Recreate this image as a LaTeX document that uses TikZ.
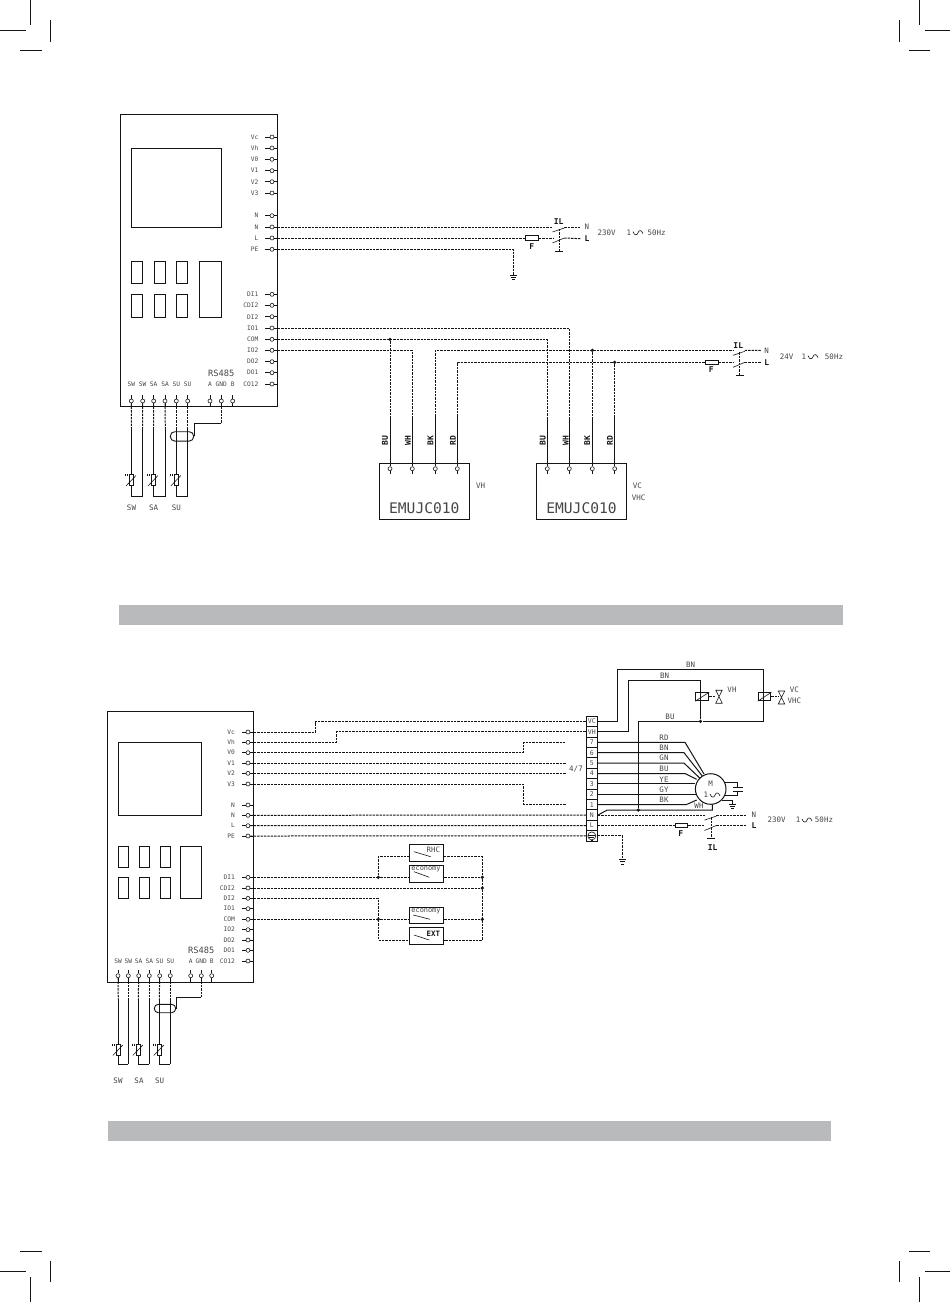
\documentclass[tikz,border=0pt]{standalone}
\usepackage{fontspec}
\setmonofont{DejaVu Sans Mono}
\definecolor{bandgrey}{RGB}{185,186,188}
\definecolor{inkblack}{RGB}{20,20,20}
\definecolor{inkgrey}{RGB}{70,70,70}
\newcommand{\fsz}[1]{\ttfamily\fontsize{#1}{#1}\selectfont}
\tikzset{
  box/.style={draw=inkblack, line width=1pt, inner sep=0pt},
  term/.style={circle, draw=inkblack, fill=white, line width=0.6pt, inner sep=0pt, minimum size=4pt},
  dot/.style={circle, fill=inkblack, inner sep=0pt, minimum size=3.6pt},
  lab/.style={inner sep=0pt, text=inkgrey, font=\fsz{6.2}},
  labr/.style={lab, anchor=east},
  big/.style={lab, font=\fsz{7.5}},
  colr/.style={lab, text=inkblack, font=\fsz{8}\bfseries},
  wire/.style={draw=inkblack, line width=1pt, dash pattern=on 2.4pt off 1pt},
  lead/.style={draw=inkblack, line width=1pt},
  thin lead/.style={draw=inkblack, line width=0.6pt},
  fuse/.style={box, minimum width=13pt, minimum height=4.6pt},
  crop/.style={draw=inkblack, line width=0.9pt},
  pics/earth/.style={code={
    \draw[thin lead] (-3.5,0) -- (3.5,0) (-2.4,2.2) -- (2.4,2.2) (-1.2,4.4) -- (1.2,4.4);
  }},
  pics/wave/.style={code={
    \draw[thin lead] (-5,-1) .. controls (-3.5,3) and (-1,3) .. (0,0) .. controls (1,-3) and (3.5,-3) .. (5,1);
  }},
  pics/sensor/.style={code={
    \draw[thin lead, fill=white] (-1.8,0) rectangle (1.8,11);
    \draw[thin lead] (-5.5,11.5) -- (4.5,1);
    \draw[thin lead] (-6,-0.5) -- (-6,1.5) (-4.4,-0.5) -- (-4.4,1.5);
  }},
  pics/isol/.style={code={
    \coordinate (-nl) at (0,-#1);
    \coordinate (-nr) at (11.3,-#1);
    \coordinate (-ll) at (0,0);
    \coordinate (-lr) at (11.3,0);
    \draw[thin lead] (-0.5,5-#1) -- (11.3,1-#1);
    \draw[thin lead] (-0.5,5) -- (11.3,0);
    \draw[wire, line width=0.7pt] (6,2-#1) -- (6,13);
    \draw[lead] (2,13) -- (10,13);
  }},
  pics/valve/.style={code={
    \draw[thin lead] (-3.2,-6.5) -- (3.2,-6.5) -- (-3.2,6.5) -- (3.2,6.5) -- cycle;
  }},
}
\begin{document}
\begin{tikzpicture}[x=1pt,y=-1pt]
\useasboundingbox (0,0) rectangle (950,1302);
% crop marks
\foreach \sx/\sy/\ox/\oy in {1/1/0/0,-1/1/950/0,1/-1/0/1302,-1/-1/950/1302}{
  \begin{scope}[shift={(\ox,\oy)},xscale=\sx,yscale=\sy]
    \draw[crop] (30.5,0) -- (30.5,25);
    \draw[crop] (0,30.5) -- (25.5,30.5);
    \draw[crop] (50.5,20) -- (50.5,41.5);
    \draw[crop] (20,50.5) -- (41.5,50.5);
  \end{scope}
}
% grey bands
\fill[bandgrey] (119,605) rectangle (843,625);
\fill[bandgrey] (108,1121) rectangle (831,1141);

% upper controller
\node[box, minimum width=157pt, minimum height=292.7pt] (a_main) at (198.9,260.6) {};
\node[box, minimum width=90pt, minimum height=79pt] (a_scr) at (176.3,187.8) {};
\foreach \n/\x in {1/137,2/159.9,3/181.9}{
  \node[box, minimum width=11.4pt, minimum height=22pt] (a_ku\n) at (\x,272.3) {};
  \node[box, minimum width=11.4pt, minimum height=23pt] (a_kd\n) at (\x,305.8) {};
}
\node[box, minimum width=22pt, minimum height=56pt] (a_disp) at (210.3,289.3) {};
\foreach \n/\y/\t in {Vc/137/Vc,Vh/148/Vh,Vz/159.3/V0,Va/170.7/V1,Vb/181.7/V2,Vd/193/V3,Na/215.7/N,Nb/227/N,L/238/L,PE/249.3/PE,
    DIa/294.3/DI1,CDI/305.3/CDI2,DIb/316.7/DI2,IOa/328/IO1,COM/339.3/COM,IOb/350.3/IO2,DOb/361.7/DO2,DOa/372.7/DO1,COD/384/CO12}{
  \node[term] (a_\n) at (272,\y) {};
  \draw[thin lead] (a_\n.west) -- ++(-4.4,0);
  \draw[thin lead] (a_\n.east) -- (a_main.east |- a_\n);
  \node[labr] (al_\n) at (258.5,\y) {\t};
}
\foreach \n/\x/\t in {1/131.3/SW,2/142.7/SW,3/153.7/SA,4/165/SA,5/176.3/SU,6/187.7/SU,7/210/A,8/221.3/GND,9/232.7/B}{
  \node[term] (a_s\n) at (\x,401) {};
  \draw[thin lead] (a_s\n.north) -- ++(0,-3.5);
  \draw[thin lead] (a_s\n.south) -- (a_main.south -| a_s\n);
  \node[lab] (al_s\n) at (\x,384.3) {\t};
}
\node[lab, font=\fsz{8.7}] (al_rs) at (221.3,373.3) {RS485};
% upper sensors
\foreach \n/\x in {1/131.5,2/142.5,3/153.5,4/165.3,5/176.3,6/187.7}{
  \coordinate (ac_\n) at (\x,428);
  \coordinate (ae_\n) at (\x,496.7);
  \draw[wire] (a_s\n) -- (ac_\n);
  \draw[lead] (ac_\n) -- (ae_\n);
}
\draw[lead] (ae_1) -- (ae_2);
\draw[lead] (ae_3) -- (ae_4);
\draw[lead] (ae_5) -- (ae_6);
\pic at (131.5,474.5) {sensor};
\pic at (153.5,474.5) {sensor};
\pic at (176.3,474.5) {sensor};
\node[big] (al_sw) at (131.5,508) {SW};
\node[big] (al_sa) at (153.7,508) {SA};
\node[big] (al_su) at (176.3,508) {SU};
\node[draw=inkblack, line width=0.9pt, rounded corners=4.5pt, minimum width=23.4pt, minimum height=9.4pt, inner sep=0pt] (a_shield) at (182,436.4) {};
\coordinate (a_gb) at (221.3,423);
\draw[wire] (a_s8) -- (a_gb);
\draw[lead] (a_gb) -| (a_shield.east);

% upper mains
\pic (s_a) at (553,238) {isol=11};
\node[fuse] (f_a) at (532,238) {};
\node[big] (t_an) at (587,227) {N};
\node[colr] (t_al) at (587,238.7) {L};
\node[colr] (t_ail) at (558.7,221.7) {IL};
\node[colr] (t_af) at (531.7,246.3) {F};
\node[big] (t_av) at (606.7,232.7) {230V};
\node[big] (t_ao) at (629,232.7) {1};
\pic at (638,232.7) {wave};
\node[big] (t_ahz) at (656.7,232.7) {50Hz};
\coordinate (g_a) at (513.3,275);
\draw[wire] (a_Nb) -- (s_a-nl);
\draw[wire] (s_a-nr) -- ([xshift=-3.5pt]t_an.west);
\draw[wire] (a_L) -- (f_a);
\draw[wire] (f_a) -- (s_a-ll);
\draw[wire] (s_a-lr) -- ([xshift=-3.5pt]t_al.west);
\draw[wire] (a_PE) -| (g_a);
\pic at (g_a) {earth};

% actuator boxes
\node[box, minimum width=90pt, minimum height=56pt] (e_a) at (424.3,491.3) {};
\node[box, minimum width=90.4pt, minimum height=56pt] (e_b) at (581.5,491.3) {};
\node[lab, font=\fsz{14.6}] (el_a) at (424.3,508.3) {EMUJC010};
\node[lab, font=\fsz{14.6}] (el_b) at (581.5,508.3) {EMUJC010};
\node[big] (el_vh) at (480.7,486) {VH};
\node[big] (el_vc) at (637.3,485.7) {VC};
\node[big] (el_vhc) at (638.7,497.7) {VHC};
\foreach \n/\x/\lx/\t in {1/390/385/BU,2/412.3/408/WH,3/435.3/430.5/BK,4/457.3/453/RD}{
  \node[term] (e1_\n) at (\x,468.7) {};
  \coordinate (m1_\n) at (\x,416.7);
  \draw[lead] (m1_\n) -- (e1_\n);
  \draw[thin lead] (e1_\n.south) -- ++(0,3.3);
  \node[colr, rotate=90] (el1_\n) at (\lx,440.7) {\t};
}
\foreach \n/\x/\lx/\t in {1/547.3/542.7/BU,2/569.3/565.7/WH,3/592.3/587.3/BK,4/614.7/610/RD}{
  \node[term] (e2_\n) at (\x,468.7) {};
  \coordinate (m2_\n) at (\x,416.7);
  \draw[lead] (m2_\n) -- (e2_\n);
  \draw[thin lead] (e2_\n.south) -- ++(0,3.3);
  \node[colr, rotate=90] (el2_\n) at (\lx,440.7) {\t};
}
\pic (s_b) at (733.5,362.3) {isol=12};
\node[fuse] (f_b) at (712,362.3) {};
\node[big] (t_bn) at (766.7,350.5) {N};
\node[colr] (t_bl) at (766.7,362.3) {L};
\node[colr] (t_bil) at (738.3,345.7) {IL};
\node[colr] (t_bf) at (711.3,370) {F};
\node[big] (t_bv) at (786.7,356.7) {24V};
\node[big] (t_bo) at (804,356.7) {1};
\pic at (813,356.7) {wave};
\node[big] (t_bhz) at (834,356.7) {50Hz};
\node[dot] (d_com) at (m1_1 |- a_COM) {};
\node[dot] (d_bk) at (m2_3 |- s_b-nl) {};
\node[dot] (d_rd) at (m2_4 |- s_b-ll) {};
\draw[wire] (a_COM) -| (m2_1);
\draw[wire] (d_com) -- (m1_1);
\draw[wire] (a_IOb) -| (m1_2);
\draw[wire] (a_IOa) -| (m2_2);
\draw[wire] (m1_3) |- (s_b-nl);
\draw[wire] (m1_4) |- (f_b);
\draw[wire] (f_b) -- (s_b-ll);
\draw[wire] (d_bk) -- (m2_3);
\draw[wire] (d_rd) -- (m2_4);
\draw[wire] (s_b-nr) -- ([xshift=-3.5pt]t_bn.west);
\draw[wire] (s_b-lr) -- ([xshift=-3.5pt]t_bl.west);

% lower controller
\node[box, minimum width=146pt, minimum height=270.7pt] (c_main) at (180.3,846.7) {};
\node[box, minimum width=83pt, minimum height=73pt] (c_scr) at (159.8,778.8) {};
\foreach \n/\x in {1/123.5,2/144.5,3/165.5}{
  \node[box, minimum width=10.4pt, minimum height=21pt] (c_ku\n) at (\x,856.8) {};
  \node[box, minimum width=10.4pt, minimum height=21.4pt] (c_kd\n) at (\x,888) {};
}
\node[box, minimum width=21pt, minimum height=52.4pt] (c_disp) at (190.8,872.5) {};
\foreach \n/\y/\t in {Vc/732/Vc,Vh/742.3/Vh,Vz/752.7/V0,Va/763/V1,Vb/773.3/V2,Vd/784/V3,Na/805/N,Nb/815.3/N,L/825.7/L,PE/836/PE,
    DIa/877.3/DI1,CDI/888/CDI2,DIb/898.3/DI2,IOa/908.7/IO1,COM/919.3/COM,IOb/929.7/IO2,DOb/940/DO2,DOa/950.3/DO1,COD/961/CO12}{
  \node[term] (c_\n) at (248,\y) {};
  \draw[thin lead] (c_\n.west) -- ++(-3.6,0);
  \draw[thin lead] (c_\n.east) -- (c_main.east |- c_\n);
  \node[labr] (cl_\n) at (235,\y) {\t};
}
\foreach \n/\x/\t in {1/118/SW,2/128.3/SW,3/138.7/SA,4/149.3/SA,5/159.7/SU,6/170.3/SU,7/190.7/A,8/201.3/GND,9/211.7/B}{
  \node[term] (c_s\n) at (\x,975.7) {};
  \draw[thin lead] (c_s\n.north) -- ++(0,-3.5);
  \draw[thin lead] (c_s\n.south) -- (c_main.south -| c_s\n);
  \node[lab] (cl_s\n) at (\x,961) {\t};
}
\node[lab, font=\fsz{8.7}] (cl_rs) at (201.3,950.7) {RS485};
% lower sensors
\foreach \n/\x in {1/118.3,2/128.3,3/138.3,4/149.3,5/159.3,6/170.3}{
  \coordinate (cc_\n) at (\x,1000);
  \coordinate (ce_\n) at (\x,1064.3);
  \draw[wire] (c_s\n) -- (cc_\n);
  \draw[lead] (cc_\n) -- (ce_\n);
}
\draw[lead] (ce_1) -- (ce_2);
\draw[lead] (ce_3) -- (ce_4);
\draw[lead] (ce_5) -- (ce_6);
\pic at (118.3,1044) {sensor};
\pic at (138.3,1044) {sensor};
\pic at (159.3,1044) {sensor};
\node[big] (cl_sw) at (118,1080.7) {SW};
\node[big] (cl_sa) at (139,1080.7) {SA};
\node[big] (cl_su) at (159.7,1080.7) {SU};
\node[draw=inkblack, line width=0.9pt, rounded corners=4pt, minimum width=21.4pt, minimum height=8.4pt, inner sep=0pt] (c_shield) at (165,1008.5) {};
\coordinate (c_gb) at (201.3,997.3);
\draw[wire] (c_s8) -- (c_gb);
\draw[lead] (c_gb) -| (c_shield.east);

% terminal strip
\foreach \n/\y/\t in {VC/721.5/VC,VH/731.9/VH,s7/742.3/7,s6/752.7/6,s5/763.1/5,s4/773.5/4,s3/783.9/3,s2/794.3/2,s1/804.7/1,N/815.1/N,L/825.5/L,PE/835.9/}{
  \node[box, minimum width=11pt, minimum height=10.4pt, lab, draw=inkblack, font=\fsz{6.5}] (b_\n) at (591.8,\y) {\t};
}
\node[circle, draw=inkblack, thin lead, inner sep=0pt, minimum size=8pt] (b_gnd) at (b_PE) {};
\pic at (591.8,835.5) {earth};
\node[big] (bl_47) at (576,769) {4/7};
\coordinate (v_a) at (315.3,721.5);
\coordinate (v_b) at (336.3,731.9);
\draw[wire] (c_Vc) -| (v_a) -- (b_VC);
\draw[wire] (c_Vh) -| (v_b) -- (b_VH);
\coordinate (v_c) at (566,742.3);
\coordinate (v_d) at (566,763);
\coordinate (v_e) at (566,773.3);
\coordinate (v_f) at (566,804.3);
\draw[wire] (c_Vz) -| (523.3,742.3) -- (v_c);
\draw[wire] (c_Va) -- (v_d);
\draw[wire] (c_Vb) -- (v_e);
\draw[wire] (c_Vd) -| (523.3,804.3) -- (v_f);
\draw[wire] (c_Nb) -- (b_N.west);
\draw[wire] (c_L) -- (b_L.west);
\draw[wire] (c_PE) -- (b_PE.west);
\coordinate (g_b) at (622.3,859.5);
\draw[wire] (b_PE.east) -| (g_b);
\pic at (g_b) {earth};

% relays
\node[box, minimum width=13pt, minimum height=8pt] (r_a) at (702.2,696.7) {};
\node[box, minimum width=12.7pt, minimum height=8pt] (r_b) at (764.6,696.7) {};
\draw[thin lead] (r_a.south west) -- (r_a.north east);
\draw[thin lead] (r_b.south west) -- (r_b.north east);
\coordinate (n_vc) at (617.3,669.3);
\coordinate (n_vh) at (628.3,680.3);
\node[dot] (d_bu) at (700.5,721.3) {};
\node[dot] (d_n) at (638.3,810) {};
\coordinate (n_r) at (763.3,721.3);
\draw[lead] (b_VC.east) -| (n_vc) -| (n_r) -- (d_bu);
\draw[lead] (b_VH.east) -| (n_vh) -| (d_bu);
\draw[lead] (d_bu) -| (d_n);
\pic (v_1) at (719,696.7) {valve};
\pic (v_2) at (781.5,697.5) {valve};
\draw[wire, line width=0.7pt] (r_a.east) -- (715.8,696.7);
\draw[wire, line width=0.7pt] (r_b.east) -- (778.3,696.7);
\node[big] (rl_vh) at (732,690) {VH};
\node[big] (rl_vc) at (794.3,690) {VC};
\node[big] (rl_vhc) at (794.3,700.7) {VHC};
\node[big] (rl_bn) at (690.7,665) {BN};
\node[big] (rl_bnb) at (664.7,675.3) {BN};
\node[big] (rl_bu) at (670,717) {BU};

% motor
\node[circle, draw=inkblack, line width=1pt, fill=white, inner sep=0pt, minimum size=30.6pt] (m_a) at (710.7,789) {};
\node[big] (ml_m) at (710.7,784) {M};
\node[big] (ml_o) at (706,795) {1};
\pic at (715,795) {wave};
\foreach \n/\y/\bx/\ex/\ey/\t in {s7/742.3/685/704/774/RD,s6/752.7/684/702.3/776/BN,s5/763.1/684/700/778.3/GN,s4/773.5/685/696.7/779.3/BU,s1/804.7/686/696.7/800/BK}{
  \draw[lead] (b_\n.east) -- (\bx,\y) -- (\ex,\ey);
  \node[big] (ml_\n) at (664,\y-5) {\t};
}
\draw[lead] (b_s3.east) -- (m_a.west |- b_s3);
\draw[lead] (b_s2.east) -- (695.5,794.3);
\node[big] (ml_s3) at (664,779.3) {YE};
\node[big] (ml_s2) at (664,789.3) {GY};
\node[big] (ml_wh) at (699,806) {WH};
\coordinate (m_w) at (712.3,810);
\draw[lead] (b_N.east) -- (607.3,810) -- (m_w) -- (712.3,804.3);
\coordinate (m_ca) at (737.3,782.3);
\coordinate (m_cb) at (737.3,795.7);
\draw[lead] (724,782.3) -- (m_ca) -- (737.3,787.3);
\draw[lead] (733,787.3) -- (743.3,787.3);
\draw[lead] (733,791.3) -- (743.3,791.3);
\draw[lead] (737.3,791.3) -- (m_cb) -- (724,795.7);
\coordinate (m_g) at (732.3,804);
\draw[lead] (721.7,800) -| (m_g);
\pic at (m_g) {earth};

% lower mains
\pic (s_c) at (705,825.5) {isol=10.4};
\node[fuse, minimum width=12.4pt] (f_c) at (681.5,825.5) {};
\node[big] (t_cn) at (754,815.1) {N};
\node[colr] (t_cl) at (754,825.5) {L};
\node[colr] (t_cil) at (712.7,847.3) {IL};
\node[colr] (t_cf) at (680.7,833.7) {F};
\node[big] (t_cv) at (776.7,820) {230V};
\node[big] (t_co) at (798,820) {1};
\pic at (807,820) {wave};
\node[big] (t_chz) at (824,820) {50Hz};
\draw[wire] (b_N.east) -- (s_c-nl);
\draw[wire] (s_c-nr) -- ([xshift=-5pt]t_cn.west);
\draw[wire] (b_L.east) -- (f_c);
\draw[wire] (f_c) -- (s_c-ll);
\draw[wire] (s_c-lr) -- ([xshift=-5pt]t_cl.west);

% contacts
\node[box, minimum width=34.4pt, minimum height=16.6pt] (k_rhc) at (426.5,853) {};
\node[box, minimum width=34.4pt, minimum height=17pt] (k_ecoa) at (426.5,873.8) {};
\node[box, minimum width=34.4pt, minimum height=16.4pt] (k_ecob) at (426.5,915.5) {};
\node[box, minimum width=34.4pt, minimum height=17pt] (k_ext) at (426.5,936.2) {};
\node[lab, font=\fsz{7.4}] (kl_rhc) at (433.3,850) {RHC};
\node[lab, font=\fsz{6.9}] (kl_ecoa) at (426,869.3) {economy};
\node[lab, font=\fsz{6.9}] (kl_ecob) at (426,911) {economy};
\node[lab, text=inkblack, font=\fsz{7.4}\bfseries] (kl_ext) at (433.3,934) {EXT};
\draw[thin lead] (414,851.7) -- (430.7,856.7);
\draw[thin lead] (414,871.7) -- (429.3,877.3);
\draw[thin lead] (413.3,915) -- (430,919.3);
\draw[thin lead] (414,935) -- (429.3,940);
\node[dot] (d_a) at (378.3,877.3) {};
\node[dot] (d_b) at (378.3,919.3) {};
\node[dot] (d_c) at (482.3,877.3) {};
\node[dot] (d_d) at (482.3,888) {};
\node[dot] (d_e) at (482.3,919.3) {};
\coordinate (k_a) at (409.3,856.7);
\coordinate (k_b) at (443.7,856.7);
\coordinate (k_c) at (409.3,940);
\coordinate (k_d) at (443.7,940);
\coordinate (k_v) at (378.3,940);
\coordinate (k_w) at (482.3,856.7);
\coordinate (k_x) at (482.3,940);
\draw[wire] (c_DIa) -- (d_a);
\draw[wire] (d_a) -- (k_ecoa.west |- d_a);
\draw[wire] (d_a) |- (k_a);
\draw[wire] (k_ecoa.east |- d_c) -- (d_c);
\draw[wire] (c_CDI) -- (d_d);
\draw[wire] (c_DIb) -| (k_v) -- (k_c);
\draw[wire] (c_COM) -- (d_b);
\draw[wire] (d_b) -- (k_ecob.west |- d_b);
\draw[wire] (k_b) -- (k_w) -- (k_x) -- (k_d);
\draw[wire] (k_ecob.east |- d_e) -- (d_e);
\end{tikzpicture}
\end{document}
